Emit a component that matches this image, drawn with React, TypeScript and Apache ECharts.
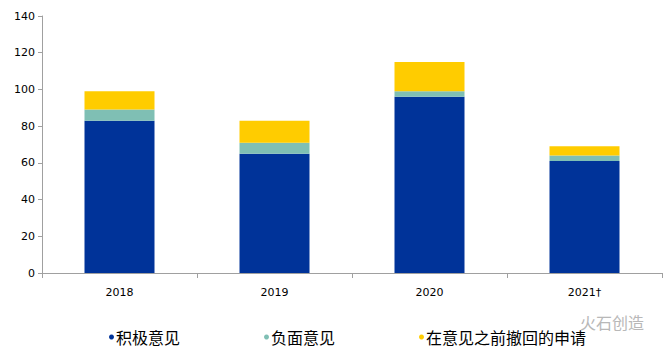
import React, { useEffect, useRef } from "react";
import * as echarts from "echarts";

const categories = ["2018", "2019", "2020", "2021†"];
const positive = [83, 65, 96, 61];
const negative = [6, 6, 3, 3];
const withdrawn = [10, 12, 16, 5];
const seriesNames = ["积极意见", "负面意见", "在意见之前撤回的申请"];
const colors = ["#003399", "#7fbfb4", "#ffcc00"];

export default function App() {
  const ref = useRef<HTMLDivElement>(null);
  useEffect(() => {
    const chart = echarts.init(ref.current!, null, { renderer: "svg" });
    const axisFont = { fontFamily: "DejaVu Sans", fontSize: 11, color: "#000" };
    chart.setOption({
      animation: false,
      grid: { left: 42, right: 4, top: 16, bottom: 79 },
      legend: {
        left: 104,
        top: 324,
        itemGap: 84,
        itemWidth: 5,
        itemHeight: 5,
        icon: "circle",
        textStyle: { fontFamily: "Noto Sans CJK SC", fontSize: 16, color: "#000", padding: [0, 0, 0, -3] },
        data: seriesNames,
      },
      xAxis: {
        type: "category",
        data: categories,
        axisLine: { lineStyle: { color: "#a0a0a0" } },
        axisTick: { show: true, alignWithLabel: false, length: 5, lineStyle: { color: "#a0a0a0" } },
        axisLabel: { ...axisFont, margin: 14 },
      },
      yAxis: {
        type: "value",
        min: 0,
        max: 140,
        interval: 20,
        splitLine: { show: false },
        axisLine: { show: true, lineStyle: { color: "#a0a0a0" } },
        axisTick: { show: true, length: 4, lineStyle: { color: "#a0a0a0" } },
        axisLabel: { ...axisFont, margin: 7 },
      },
      graphic: [
        {
          type: "text",
          left: 580,
          top: 314,
          style: { text: "火石创造", fontFamily: "Noto Sans CJK SC", fontSize: 16, fill: "#b8b8b8" },
        },
      ],
      series: [positive, negative, withdrawn].map((d, i) => ({
        name: seriesNames[i],
        type: "bar",
        stack: "total",
        data: d,
        barWidth: 70,
        itemStyle: { color: colors[i] },
      })),
    });
    return () => chart.dispose();
  }, []);
  return <div ref={ref} style={{ width: 666, height: 352, position: "absolute", left: 0, top: 0 }} />;
}
